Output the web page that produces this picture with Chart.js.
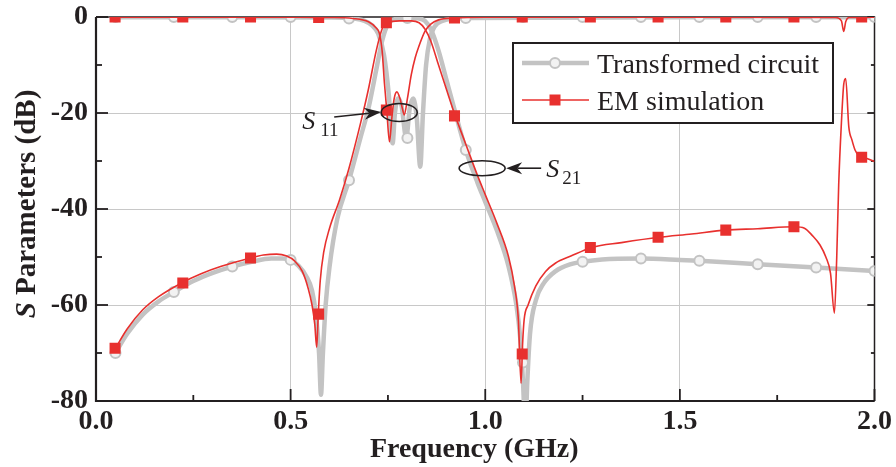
<!DOCTYPE html>
<html><head><meta charset="utf-8">
<script src="https://cdn.jsdelivr.net/npm/chart.js@4"></script>
<style>html,body{margin:0;padding:0;background:#fff}#wrap{width:896px;height:467px;position:relative}</style>
</head><body><div id="wrap"><canvas id="c" width="896" height="467"></canvas></div>
<script>
// ---------- data ----------
const xTickLabels = ['0.0','0.5','1.0','1.5','2.0'];
const yTickLabels = ['-80','-60','-40','-20','0'];
const seriesNames = ['Transformed circuit','EM simulation'];

// Transformed circuit, S21
const tcS21F = [0.05,0.08,0.12,0.16,0.2,0.25,0.3,0.35,0.4,0.45,0.48,0.5,0.52,0.54,0.555,0.565,0.573,0.578,0.583,0.59,0.6,0.62,0.65,0.68,0.7,0.72,0.735,0.75,0.77,0.8,0.83,0.845,0.86,0.88,0.9,0.92,0.95,0.98,1.0,1.03,1.06,1.08,1.09,1.097,1.103,1.108,1.115,1.13,1.15,1.18,1.22,1.25,1.3,1.4,1.5,1.55,1.7,1.85,2.0];
const tcS21  = [-70,-66,-62,-59.3,-57.3,-55,-53.3,-52,-51,-50.3,-50.3,-50.6,-51.8,-54,-57,-62,-70,-78.7,-70,-60,-52,-42,-34,-25,-19,-11,-5,-1.5,-0.4,-0.2,-0.3,-0.8,-2.5,-7,-13,-19,-27.7,-34.5,-38.5,-44.5,-52,-60,-67,-76,-86,-76,-66,-59,-55.5,-53,-51.5,-51,-50.5,-50.3,-50.6,-50.8,-51.5,-52.2,-52.9];
// Transformed circuit, S11
const tcS11F = [0.05,0.3,0.6,0.66,0.69,0.71,0.725,0.74,0.752,0.762,0.768,0.776,0.785,0.797,0.806,0.815,0.824,0.833,0.84,0.848,0.858,0.87,0.89,0.95,1.5,2.0];
const tcS11  = [-0.05,-0.05,-0.1,-0.3,-0.8,-1.8,-3.5,-8,-16,-26.3,-20,-17,-18.5,-25.2,-19,-17,-21,-31.2,-20,-10,-4.5,-2,-0.8,-0.2,-0.05,-0.05];
// Transformed circuit, marker positions
const tcMarkF   = [0.05,0.2,0.35,0.5,0.65,0.8,0.95,1.097,1.25,1.4,1.55,1.7,1.85,2.0];
const tcMarkS21 = [-70,-57.3,-52,-50.6,-34,-0.2,-27.7,-72,-51,-50.3,-50.8,-51.5,-52.2,-52.9];
const tcMarkS11 = [0,0,0,0,-0.3,-25.2,-0.2,0,0,0,0,0,0,0];

// EM simulation, S21
const emS21F = [0.05,0.08,0.12,0.16,0.22,0.27,0.32,0.397,0.43,0.464,0.49,0.51,0.53,0.545,0.555,0.562,0.567,0.571,0.576,0.585,0.6,0.626,0.65,0.68,0.7,0.72,0.735,0.746,0.78,0.81,0.83,0.845,0.86,0.88,0.9,0.923,0.95,0.98,1.0,1.03,1.06,1.075,1.085,1.092,1.096,1.1,1.11,1.13,1.155,1.18,1.22,1.274,1.35,1.446,1.53,1.618,1.7,1.795,1.82,1.84,1.86,1.875,1.887,1.897,1.903,1.908,1.915,1.921,1.926,1.934,1.942,1.95,1.959,1.972,2.0];
const emS21  = [-69,-65,-61,-58.3,-55.4,-53.5,-52,-50.2,-49.6,-49.4,-49.8,-50.8,-53,-56.5,-60,-64,-68.8,-62,-55,-49,-44,-38,-31.5,-22,-15,-7,-2.5,-1.2,-0.8,-0.8,-1.2,-2.5,-5,-10,-15,-20.6,-26.5,-33,-37,-43,-50,-56,-63,-76.3,-68,-63,-60,-56,-53,-51.3,-49.8,-48,-47,-45.9,-45.2,-44.4,-44.1,-43.7,-44,-45.5,-47.5,-50,-53.4,-61.7,-50,-35,-22,-14,-12.8,-22.9,-25.6,-27.7,-28.8,-29.2,-30.1];
// EM simulation, S11
const emS11F = [0.05,0.3,0.5,0.6,0.66,0.7,0.72,0.728,0.735,0.741,0.747,0.754,0.76,0.766,0.773,0.781,0.787,0.792,0.8,0.81,0.82,0.83,0.845,0.86,0.88,0.92,1.0,1.5,1.9,1.915,1.921,1.926,1.935,2.0];
const emS11  = [-0.03,-0.03,-0.05,-0.1,-0.3,-1.0,-2.3,-3.4,-7,-13.8,-19.4,-26,-21,-17,-15.6,-17,-19,-20.4,-17,-12,-8.5,-6,-3,-1.5,-0.6,-0.2,-0.05,-0.05,-0.1,-0.8,-3,-1,-0.1,-0.05];
// EM simulation, marker positions
const emMarkF   = [0.049,0.223,0.397,0.572,0.746,0.921,1.095,1.27,1.444,1.618,1.793,1.967];
const emMarkS21 = [-69,-55.4,-50.2,-61.9,-1.2,-20.6,-70.2,-48,-45.9,-44.4,-43.7,-29.2];
const emMarkS11 = [0,0,0,-0.1,-19.4,-0.2,0,0,0,0,0,0];

// ---------- styling ----------
const GRAY = '#c3c3c3', RED = '#e8302e', INK = '#231f20';
const SERIF = '"Liberation Serif","Times New Roman",serif';
const pts = (fs, vs) => fs.map((f, i) => ({x: f, y: vs[i]}));

function lineDs(label, fs, vs, color, w, order) {
  return {label, data: pts(fs, vs), showLine: true, borderColor: color, backgroundColor: color,
    borderWidth: w, pointRadius: 0, pointHoverRadius: 0, cubicInterpolationMode: 'monotone', order};
}
function markDs(label, fs, vs, style, r, bg, bc, bw, order) {
  return {label, data: pts(fs, vs), showLine: false, pointStyle: style, pointRadius: r, pointHoverRadius: r,
    backgroundColor: bg, borderColor: bc, pointBorderWidth: bw, borderWidth: bw, clip: 0, order};
}

function arrow(ctx, x1, y1, x2, y2, L, W) {
  const a = Math.atan2(y2 - y1, x2 - x1), c = Math.cos(a), s = Math.sin(a);
  const bx = x2 - L * c, by = y2 - L * s;
  const nx = bx + 0.3 * L * c, ny = by + 0.3 * L * s;
  ctx.beginPath(); ctx.moveTo(x1, y1); ctx.lineTo(nx, ny); ctx.stroke();
  ctx.beginPath(); ctx.moveTo(x2, y2);
  ctx.lineTo(bx - W * s, by + W * c);
  ctx.lineTo(nx, ny);
  ctx.lineTo(bx + W * s, by - W * c);
  ctx.closePath(); ctx.fill();
}

const frame = {
  id: 'frame',
  beforeDatasetsDraw(chart) {
    const {ctx, chartArea: a, scales: {x, y}} = chart;
    ctx.save();
    ctx.strokeStyle = INK;
    ctx.lineWidth = 1.5;
    ctx.beginPath(); ctx.moveTo(a.left, a.top); ctx.lineTo(a.right, a.top); ctx.lineTo(a.right, a.bottom); ctx.stroke();
    ctx.lineWidth = 2.2;
    ctx.beginPath(); ctx.moveTo(a.left, a.top); ctx.lineTo(a.left, a.bottom); ctx.lineTo(a.right, a.bottom); ctx.stroke();
    ctx.lineWidth = 1.8;
    for (let v = 0; v <= 2.0001; v += 0.25) {
      const px = x.getPixelForValue(v), major = Math.abs(v * 2 - Math.round(v * 2)) < 1e-6;
      const L = major ? 12 : 6;
      ctx.beginPath(); ctx.moveTo(px, a.bottom); ctx.lineTo(px, a.bottom - L); ctx.stroke();
    }
    for (let v = -80; v <= 0; v += 10) {
      const py = y.getPixelForValue(v), major = v % 20 === 0;
      const L = major ? 12 : 6;
      ctx.beginPath(); ctx.moveTo(a.left, py); ctx.lineTo(a.left + L, py); ctx.stroke();
      ctx.beginPath(); ctx.moveTo(a.right, py); ctx.lineTo(a.right - L * 0.6, py); ctx.stroke();
    }
    ctx.restore();
  },
  afterDraw(chart) {
    const {ctx, chartArea: a, scales: {x, y}} = chart;
    ctx.save();
    ctx.fillStyle = INK;
    // x title
    ctx.font = 'bold 28px ' + SERIF;
    ctx.textAlign = 'center'; ctx.textBaseline = 'alphabetic';
    ctx.fillText('Frequency (GHz)', (a.left + a.right) / 2 - 11, 457);
    // y title
    ctx.save();
    ctx.translate(35, (a.top + a.bottom) / 2 - 5);
    ctx.rotate(-Math.PI / 2);
    ctx.textAlign = 'left';
    const fI = 'italic bold 29px ' + SERIF, fB = 'bold 29px ' + SERIF;
    ctx.font = fI; const w1 = ctx.measureText('S').width;
    ctx.font = fB; const w2 = ctx.measureText(' Parameters (dB)').width;
    const x0 = -(w1 + w2) / 2;
    ctx.font = fI; ctx.fillText('S', x0, 0);
    ctx.font = fB; ctx.fillText(' Parameters (dB)', x0 + w1, 0);
    ctx.restore();

    // legend
    const lx = 513, ly = 43, lw = 320, lh = 80;
    ctx.fillStyle = '#fff'; ctx.fillRect(lx, ly, lw, lh);
    ctx.strokeStyle = INK; ctx.lineWidth = 2; ctx.strokeRect(lx, ly, lw, lh);
    // row 1
    ctx.strokeStyle = GRAY; ctx.lineWidth = 4.5;
    ctx.beginPath(); ctx.moveTo(522, 63); ctx.lineTo(589, 63); ctx.stroke();
    ctx.fillStyle = '#f2f2f2'; ctx.lineWidth = 2;
    ctx.beginPath(); ctx.arc(555, 63, 5, 0, Math.PI * 2); ctx.fill(); ctx.stroke();
    // row 2
    ctx.strokeStyle = RED; ctx.lineWidth = 1.6;
    ctx.beginPath(); ctx.moveTo(522, 100); ctx.lineTo(589, 100); ctx.stroke();
    ctx.fillStyle = RED; ctx.fillRect(555 - 5.5, 100 - 5.5, 11, 11);
    ctx.fillStyle = INK; ctx.font = '28px ' + SERIF; ctx.textAlign = 'left';
    ctx.fillText(seriesNames[0], 597, 73);
    ctx.fillText(seriesNames[1], 597, 110);

    // annotations
    ctx.strokeStyle = INK; ctx.fillStyle = INK; ctx.lineWidth = 1.6;
    let cx = x.getPixelForValue(0.779), cy = y.getPixelForValue(-20);
    ctx.beginPath(); ctx.ellipse(cx, cy - 0.5, 18, 9, 0, 0, Math.PI * 2); ctx.stroke();
    arrow(ctx, cx - 65, cy + 4, cx - 18, cy - 1, 17, 6);
    ctx.font = 'italic 26px ' + SERIF; ctx.fillText('S', cx - 97, cy + 15.5);
    ctx.font = '19px ' + SERIF; ctx.fillText('11', cx - 79, cy + 22.5);
    cx = x.getPixelForValue(0.992); cy = y.getPixelForValue(-31.5);
    ctx.beginPath(); ctx.ellipse(cx, cy, 23, 7.5, 0, 0, Math.PI * 2); ctx.stroke();
    arrow(ctx, cx + 59, cy, cx + 24, cy, 16, 6);
    ctx.font = 'italic 26px ' + SERIF; ctx.fillText('S', cx + 64, cy + 9);
    ctx.font = '19px ' + SERIF; ctx.fillText('21', cx + 80, cy + 16);
    ctx.restore();
  }
};

const gridColor = edges => c => (c.tick && edges.includes(c.tick.value)) ? 'rgba(0,0,0,0)' : '#c8c8c8';

new Chart(document.getElementById('c'), {
  type: 'scatter',
  data: {datasets: [
    lineDs(seriesNames[0], tcS21F, tcS21, GRAY, 4.5, 3),
    lineDs(seriesNames[0], tcS11F, tcS11, GRAY, 4.5, 3),
    markDs(seriesNames[0], tcMarkF, tcMarkS21, 'circle', 5, '#f2f2f2', GRAY, 2, 2),
    markDs(seriesNames[0], tcMarkF, tcMarkS11, 'circle', 5, '#f2f2f2', GRAY, 2, 2),
    lineDs(seriesNames[1], emS21F, emS21, RED, 1.6, 1),
    lineDs(seriesNames[1], emS11F, emS11, RED, 1.6, 1),
    markDs(seriesNames[1], emMarkF, emMarkS21, 'rect', 7.8, RED, RED, 0, 0),
    markDs(seriesNames[1], emMarkF, emMarkS11, 'rect', 7.8, RED, RED, 0, 0)
  ]},
  options: {
    responsive: false, animation: false, devicePixelRatio: 1,
    layout: {padding: {top: 17, right: 20, left: 0, bottom: 0}},
    plugins: {legend: {display: false}, tooltip: {enabled: false}},
    scales: {
      x: {type: 'linear', min: 0, max: 2,
        afterFit: s => { s.height = 66; },
        border: {display: false},
        grid: {drawTicks: false, color: gridColor([0, 2]), lineWidth: 1},
        ticks: {stepSize: 0.5, padding: 4, color: INK, font: {family: SERIF, size: 28, weight: 'bold'},
          callback: (v, i) => xTickLabels[i]}},
      y: {type: 'linear', min: -80, max: 0,
        afterFit: s => { s.width = 96; },
        border: {display: false},
        grid: {drawTicks: false, color: gridColor([0, -80]), lineWidth: 1},
        ticks: {stepSize: 20, padding: 8, color: INK, font: {family: SERIF, size: 28, weight: 'bold', lineHeight: 0.6},
          callback: (v, i) => yTickLabels[i]}}
    }
  },
  plugins: [frame]
});
</script></body></html>
